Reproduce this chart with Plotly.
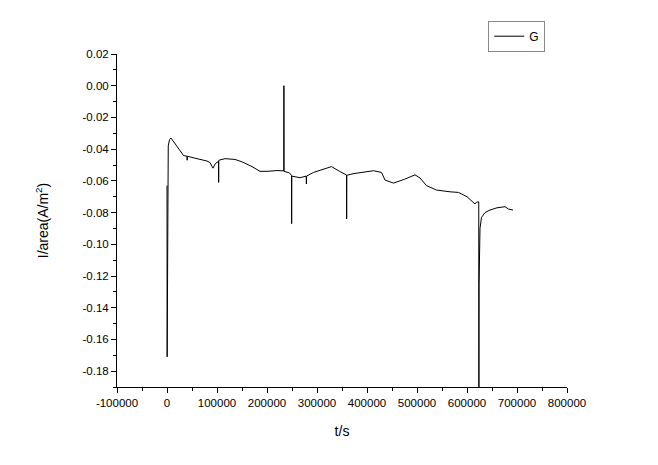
import plotly.graph_objects as go

# ── Datos ────────────────────────────────────────────────────────────────────
t_s = [
    0, 300, 2500, 5000, 8000, 15000, 25000, 33000, 40000, 40300, 40600,
    60000, 80000, 86000, 92000, 97000, 103000, 103300, 103600, 116000,
    136000, 150000, 170000, 186000, 200000, 220000, 233500, 233800, 234100,
    245000, 249000, 249300, 249600, 266000, 278500, 278800, 279100, 293000,
    310000, 329000, 345000, 359000, 359300, 359600, 372000, 386000, 413000,
    429000, 436000, 453000, 475000, 496000, 506000, 519000, 539000, 566000,
    583000, 600000, 616000, 619000, 623500, 623800, 624100, 626000, 629000,
    636000, 646000, 660000, 676000, 683000, 692000,
]
i_area = [
    -0.063, -0.171, -0.038, -0.034, -0.033, -0.036, -0.040, -0.044, -0.0445,
    -0.047, -0.0445, -0.046, -0.0475, -0.0485, -0.052, -0.049, -0.0478,
    -0.061, -0.047, -0.046, -0.0465, -0.048, -0.051, -0.054, -0.054,
    -0.0535, -0.0537, 0.000, -0.054, -0.055, -0.0565, -0.087, -0.057,
    -0.058, -0.057, -0.062, -0.057, -0.0547, -0.053, -0.051, -0.054,
    -0.0563, -0.084, -0.0565, -0.0555, -0.0547, -0.0536, -0.0547, -0.0595,
    -0.0614, -0.059, -0.0562, -0.0582, -0.063, -0.0658, -0.0669, -0.0673,
    -0.070, -0.0746, -0.0735, -0.0732, -0.200, -0.125, -0.090, -0.083,
    -0.080, -0.0784, -0.077, -0.0763, -0.0778, -0.0784,
]

x_ticks = [-100000, 0, 100000, 200000, 300000, 400000, 500000, 600000, 700000, 800000]
x_labels = ["-100000", "0", "100000", "200000", "300000", "400000",
            "500000", "600000", "700000", "800000"]
y_ticks = [0.02, 0.00, -0.02, -0.04, -0.06, -0.08, -0.10, -0.12, -0.14, -0.16, -0.18]
y_labels = ["0.02", "0.00", "-0.02", "-0.04", "-0.06", "-0.08", "-0.10",
            "-0.12", "-0.14", "-0.16", "-0.18"]

FUENTE = "Arial, 'Liberation Sans', sans-serif"

fig = go.Figure(go.Scatter(
    x=t_s, y=i_area, name="G", mode="lines",
    line=dict(color="#000000", width=1),
))

eje = dict(
    showline=True, linecolor="#000000", linewidth=1,
    ticks="outside", ticklen=5, tickcolor="#000000",
    showgrid=False, zeroline=False, mirror=False,
    tickfont=dict(family=FUENTE, size=11.5, color="#000000"),
)

# la página añade 8 px de margen al cuerpo: se compensa aquí
fig.update_layout(
    width=658, height=465,
    margin=dict(l=109, r=99, t=46, b=86),
    plot_bgcolor="white", paper_bgcolor="white",
    font=dict(family=FUENTE, color="#000000"),
    showlegend=True,
    legend=dict(
        x=0.825, y=1.10, xanchor="left", yanchor="top",
        bordercolor="#888888", borderwidth=1,
        font=dict(family=FUENTE, size=12),
        itemwidth=30, tracegroupgap=0,
    ),
    xaxis=dict(
        eje, range=[-100000, 800000],
        tickmode="array", tickvals=x_ticks, ticktext=x_labels,
        minor=dict(tickmode="linear", tick0=-50000, dtick=100000,
                   ticks="outside", ticklen=3, tickcolor="#000000"),
        title=dict(text="t/s", font=dict(family=FUENTE, size=14), standoff=18),
    ),
    yaxis=dict(
        eje, range=[-0.19, 0.02],
        tickmode="array", tickvals=y_ticks, ticktext=y_labels,
        minor=dict(tickmode="linear", tick0=0.01, dtick=0.02,
                   ticks="outside", ticklen=3, tickcolor="#000000"),
        title=dict(text="I/area(A/m<sup>2</sup>)",
                   font=dict(family=FUENTE, size=14), standoff=30),
    ),
)

fig.write_html("out.html")
